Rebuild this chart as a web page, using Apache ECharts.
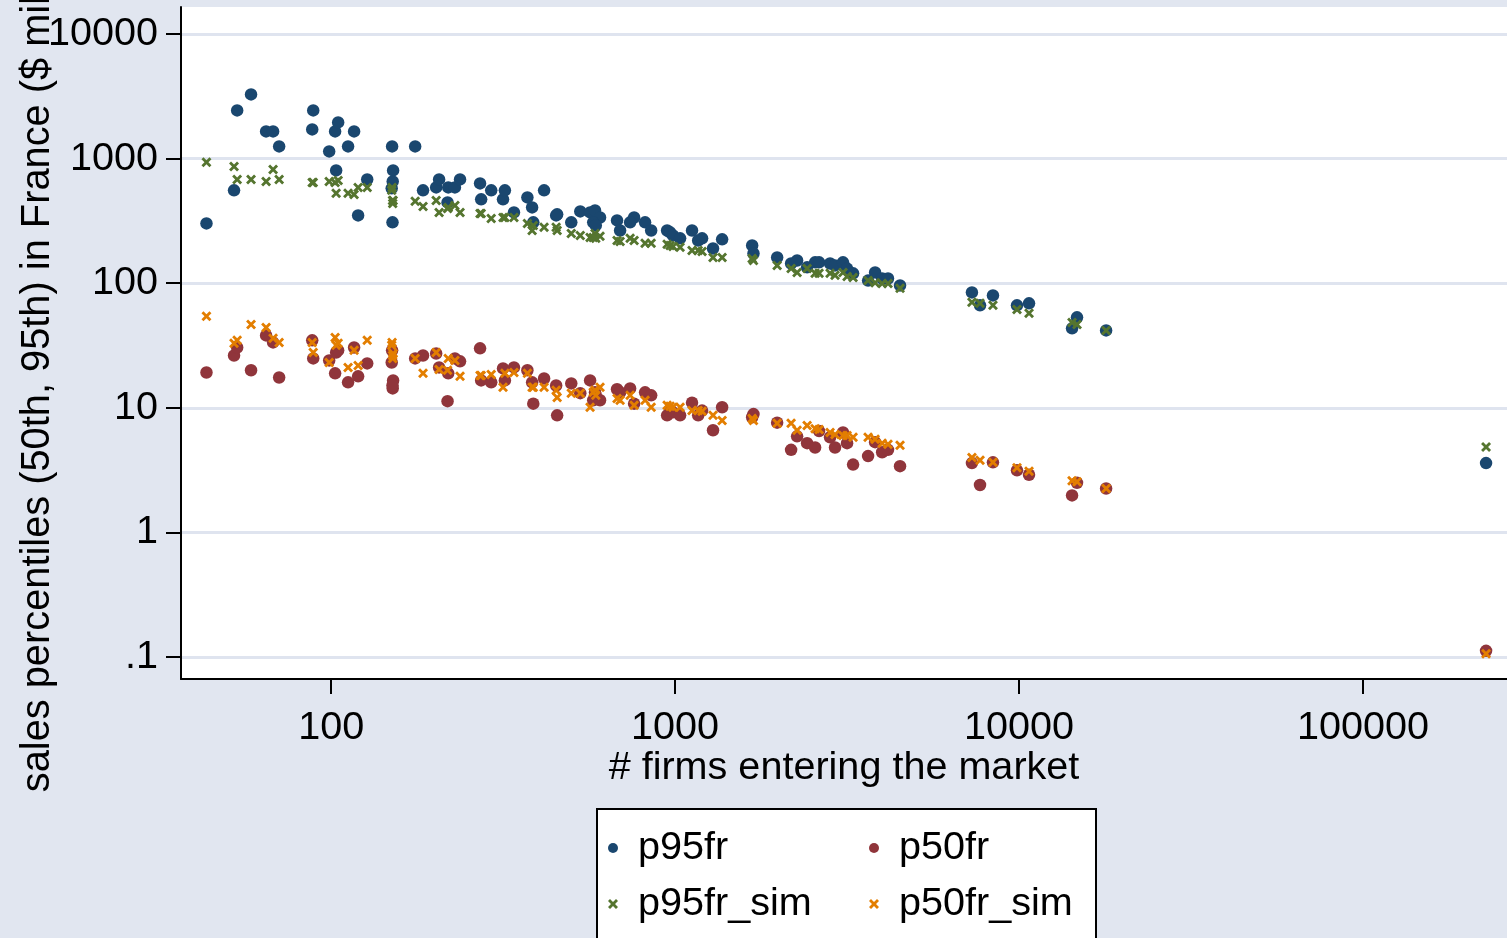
<!DOCTYPE html>
<html>
<head>
<meta charset="utf-8">
<script src="https://cdn.jsdelivr.net/npm/echarts@6/dist/echarts.min.js"></script>
<style>
html,body{margin:0;padding:0;background:#e1e6f0;}
#chart{width:1507px;height:938px;}
</style>
</head>
<body>
<div id="chart"></div>
<script>
// # firms entering the market (one entry per market)
var firms = [
  43.4, 52.2, 53.3, 58.5, 64.7, 67.8, 70.6, 88.1, 88.7, 98.7,
  102.7, 103.4, 104.8, 112, 116.6, 119.8, 127.3, 150.4, 151.4, 151,
  150, 150.8, 175.5, 185, 202, 206, 219, 218, 229, 237,
  271, 273, 292, 316, 320, 340, 372, 384, 387, 416,
  451, 454, 499, 530, 566, 585, 605, 578, 588, 678,
  692, 760, 740, 818, 852, 948, 967, 986, 1034, 1120,
  1167, 1198, 1289, 1370, 1675, 1690, 1980, 2174, 2263, 2420,
  2553, 2622, 2822, 2917, 3077, 3162, 3292, 3640, 3815, 3999,
  4159, 4508, 7295, 7701, 8397, 9863, 10690, 14260, 14740, 17910,
  227900
];
var p95fr = [
  302, 556, 2437, 3275, 1653, 1653, 1253, 1715, 2437, 1142,
  1653, 804, 1953, 1253, 1653, 350, 681, 1253, 804, 656,
  577, 308, 1253, 556, 587, 681, 587, 445, 587, 681,
  632, 471, 556, 471, 556, 370, 488, 406, 308, 556,
  350, 357, 308, 377, 370, 384, 337, 308, 291, 319,
  265, 337, 308, 308, 265, 265, 256, 242, 229, 265,
  220, 229, 190, 225, 201, 173, 161, 144, 152, 134,
  147, 147, 144, 139, 147, 131, 120, 105, 122, 109,
  109, 96, 84.4, 66.4, 79.8, 66.4, 68.9, 43.4, 53.2, 41.8,
  3.6
];
var p95fr_sim = [
  933, 866, 681, 681, 656, 819, 681, 644, 644, 656,
  644, 526, 668, 526, 516, 587, 587, 587, 462, 437,
  556, 462, 454, 413, 462, 370, 406, 398, 421, 370,
  363, 363, 331, 337, 337, 337, 302, 265, 291, 281,
  281, 265, 251, 242, 233, 251, 238, 233, 229, 220,
  216, 220, 229, 209, 209, 205, 201, 197, 194, 183,
  183, 180, 161, 161, 158, 152, 139, 131, 122, 131,
  120, 120, 120, 116, 122, 113, 111, 105, 101, 99.6,
  99.6, 91, 70.2, 68.9, 66.4, 61.6, 57.3, 48.4, 46.7, 41.8,
  4.84
];
var p50fr = [
  19.2, 26.3, 30.5, 20.0, 38.1, 33.5, 17.5, 34.8, 24.9, 24.0,
  18.9, 27.8, 28.9, 16.0, 30.5, 17.9, 22.7, 28.9, 16.6, 14.3,
  23.1, 15.1, 24.9, 26.3, 27.3, 21.1, 18.9, 11.3, 24.9, 23.6,
  30.0, 16.6, 16.0, 20.7, 16.6, 21.1, 20.0, 16.0, 10.8, 17.2,
  15.1, 8.7, 15.7, 13.1, 16.6, 13.3, 11.5, 11.5, 12.6, 14.1,
  13.3, 10.8, 14.3, 13.3, 12.6, 8.7, 9.5, 9.2, 8.7, 11.0,
  8.7, 9.5, 6.6, 10.1, 8.4, 8.9, 7.6, 4.6, 5.9, 5.2,
  4.8, 6.5, 5.8, 4.8, 6.35, 5.2, 3.5, 4.1, 5.3, 4.4,
  4.6, 3.4, 3.6, 2.4, 3.65, 3.15, 2.9, 1.98, 2.5, 2.25,
  0.112
];
var p50fr_sim = [
  54.2, 32.9, 34.8, 46.7, 44.2, 36.1, 33.5, 33.5, 27.8, 23.1,
  36.7, 31.7, 32.9, 21.1, 28.9, 21.9, 34.8, 33.5, 27.3, 24.9,
  31.7, 26.3, 24.9, 18.9, 27.8, 20.3, 24.9, 20.0, 24.0, 17.9,
  18.2, 18.2, 18.5, 14.6, 18.9, 19.2, 18.9, 14.6, 14.6, 14.6,
  13.8, 12.1, 13.1, 13.1, 10.1, 13.8, 14.6, 13.3, 12.6, 11.9,
  11.5, 10.5, 12.6, 11.5, 10.1, 10.5, 10.3, 10.1, 10.1, 9.5,
  9.5, 9.4, 8.7, 7.9, 8.2, 7.9, 7.5, 7.5, 6.6, 7.2,
  6.8, 6.7, 6.35, 6.1, 6.0, 6.0, 5.8, 5.8, 5.6, 5.2,
  5.1, 5.0, 4.0, 3.8, 3.65, 3.3, 3.1, 2.6, 2.55, 2.25,
  0.106
];
var xTicks = [100, 1000, 10000, 100000];
var yTicks = [0.1, 1, 10, 100, 1000, 10000];
var seriesNames = ['p95fr', 'p50fr', 'p95fr_sim', 'p50fr_sim'];

var FONT = 'Liberation Sans, Arial, Helvetica, sans-serif';
var XSYM = 'path://M0,2 L2,0 L5,3 L8,0 L10,2 L7,5 L10,8 L8,10 L5,7 L2,10 L0,8 L3,5 Z';
var colors = {p95fr:'#1a476f', p50fr:'#90353b', p95fr_sim:'#55752f', p50fr_sim:'#e37e00'};

function pairs(ys){ return firms.map(function(f,i){ return [f, ys[i]]; }); }
function fmt(v){
  var s = String(v);
  return v < 1 ? s.replace(/^0/, '') : s;
}
var seriesData = {p95fr:p95fr, p50fr:p50fr, p95fr_sim:p95fr_sim, p50fr_sim:p50fr_sim};

var chart = echarts.init(document.getElementById('chart'), null, {renderer:'canvas'});
chart.setOption({
  animation:false,
  backgroundColor:'#e1e6f0',
  textStyle:{fontFamily:FONT},
  grid:{left:181, top:7, right:0, bottom:259, show:true, backgroundColor:'#ffffff', borderWidth:0,
        containLabel:false, outerBoundsMode:'none'},
  xAxis:{
    type:'log', min:36.6, max:262200,
    name:'# firms entering the market', nameLocation:'middle', nameGap:69, nameMoveOverlap:false,
    nameTextStyle:{fontSize:39.6, color:'#000', fontFamily:FONT},
    axisLine:{show:true, lineStyle:{color:'#000', width:2}},
    axisTick:{show:true, length:15, lineStyle:{color:'#000', width:2}, customValues:xTicks},
    axisLabel:{fontSize:39.6, color:'#000', margin:29, fontFamily:FONT, customValues:xTicks, formatter:fmt},
    splitLine:{show:false}
  },
  yAxis:{
    type:'log', min:0.0666, max:16470,
    name:'sales percentiles (50th, 95th) in France ($ million)', nameLocation:'middle', nameGap:123, nameMoveOverlap:false,
    nameTextStyle:{fontSize:39.8, color:'#000', fontFamily:FONT, padding:[0,27,0,0]},
    axisLine:{show:true, lineStyle:{color:'#000', width:2}},
    axisTick:{show:true, length:15, lineStyle:{color:'#000', width:2}, customValues:yTicks},
    axisLabel:{fontSize:39.6, color:'#000', margin:23, fontFamily:FONT, customValues:yTicks, formatter:fmt},
    splitLine:{show:true, lineStyle:{color:'#dfe4ef', width:3}}
  },
  graphic:[{
    type:'rect', z:0, shape:{x:597, y:809, width:499, height:200},
    style:{fill:'#ffffff', stroke:'#000', lineWidth:2}
  }],
  legend:[
    {data:['p95fr','p95fr_sim'], orient:'vertical', left:603, top:820, z:10,
     itemWidth:34, itemHeight:10, itemGap:10,
     textStyle:{fontSize:39.6, lineHeight:46, color:'#000', fontFamily:FONT, padding:[0,0,0,3]}},
    {data:['p50fr','p50fr_sim'], orient:'vertical', left:864, top:820, z:10,
     itemWidth:34, itemHeight:10, itemGap:10,
     textStyle:{fontSize:39.6, lineHeight:46, color:'#000', fontFamily:FONT, padding:[0,0,0,3]}}
  ],
  series: seriesNames.map(function(n){
    var isSim = n.indexOf('_sim') > 0;
    return {
      name:n, type:'scatter', data:pairs(seriesData[n]),
      symbol: isSim ? XSYM : 'circle',
      symbolSize: isSim ? 10 : 12.5,
      itemStyle:{color:colors[n], opacity:1},
      emphasis:{disabled:true}
    };
  })
});
</script>
</body>
</html>
